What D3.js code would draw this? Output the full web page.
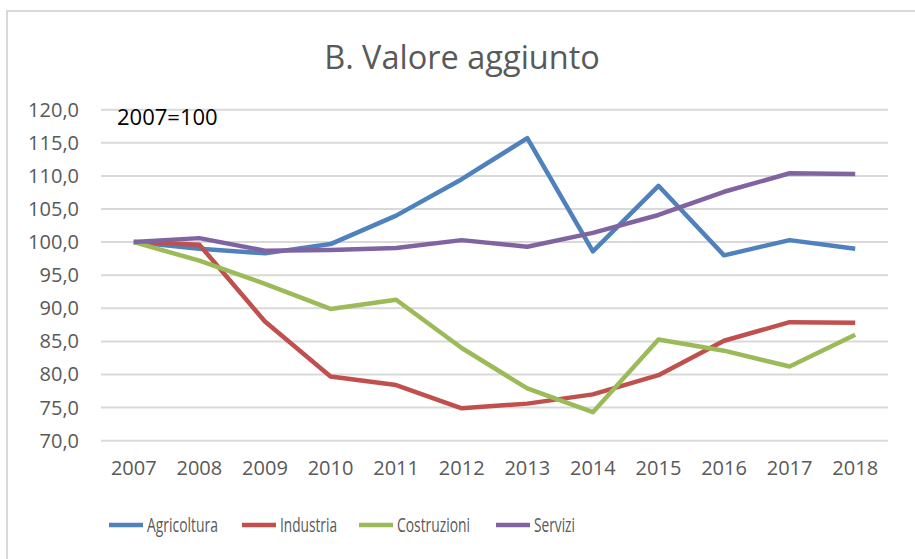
<!DOCTYPE html>
<html><head><meta charset="utf-8">
<script src="https://cdn.jsdelivr.net/npm/d3@7"></script>
<style>body{margin:0;background:#fff}svg{display:block}</style>
</head><body>
<script>
const years = ["2007","2008","2009","2010","2011","2012","2013","2014","2015","2016","2017","2018"];
const agricoltura = [100,99.0,98.3,99.7,104.0,109.5,115.7,98.6,108.5,98.0,100.3,99.0];
const industria   = [100,99.6,88.0,79.7,78.4,74.9,75.6,77.0,79.9,85.1,87.9,87.8];
const costruzioni = [100,97.2,93.7,89.9,91.3,84.0,77.9,74.3,85.3,83.6,81.2,86.0];
const servizi     = [100,100.6,98.7,98.8,99.1,100.3,99.3,101.4,104.1,107.6,110.4,110.3];
const seriesNames = ["Agricoltura","Industria","Costruzioni","Servizi"];
const seriesColors = ["#4F81BD","#C0504D","#9BBB59","#8064A2"];
const yTicks = [70,75,80,85,90,95,100,105,110,115,120];
const title = "B. Valore aggiunto";
const note = "2007=100";

const W=915,H=559;
const svg=d3.select("body").append("svg").attr("width",W).attr("height",H);
const font="'Open Sans', sans-serif";

// border
svg.append("path").attr("d",`M7,${H} L7,11 L${W},11`).attr("fill","none").attr("stroke","#d9d9d9").attr("stroke-width",2);

const x=d3.scaleBand().domain(years).range([101,888]);
const y=d3.scaleLinear().domain([70,120]).range([440.7,109.7]);

// gridlines
svg.append("g").selectAll("line").data(yTicks).join("line")
 .attr("x1",101).attr("x2",888).attr("y1",d=>y(d)).attr("y2",d=>y(d))
 .attr("stroke","#d9d9d9").attr("stroke-width",2);

// y axis
const yAxis=d3.axisLeft(y).tickValues(yTicks).tickSize(0).tickPadding(0)
 .tickFormat(d=>d3.format(".1f")(d).replace(".",","));
const ga=svg.append("g").attr("transform","translate(79,0)").call(yAxis);
ga.select(".domain").remove();
ga.selectAll("text").attr("font-family",font).attr("font-size",20).attr("fill","#595959");

// x axis
const xAxis=d3.axisBottom(x).tickSize(0).tickPadding(0);
const gx=svg.append("g").attr("transform","translate(0,461)").call(xAxis);
gx.select(".domain").remove();
gx.selectAll("text").attr("font-family",font).attr("font-size",20).attr("fill","#595959").attr("dy","0.71em");

// lines
const data=[agricoltura,industria,costruzioni,servizi];
const line=d3.line().x((d,i)=>x(years[i])+x.bandwidth()/2).y(d=>y(d));
svg.append("g").selectAll("path").data(data).join("path")
 .attr("d",line).attr("fill","none")
 .attr("stroke",(d,i)=>seriesColors[i]).attr("stroke-width",4.5)
 .attr("stroke-linejoin","round").attr("stroke-linecap","butt");

// title
svg.append("text").attr("x",462).attr("y",69).attr("text-anchor","middle")
 .attr("font-family",font).attr("font-size",32.5).attr("fill","#595959").text(title);

// note
svg.append("text").attr("x",117).attr("y",125).attr("font-family",font).attr("font-size",22).attr("fill","#000").text(note);

// legend
const legX=[109,242,359,496];
const legW=[71,57,73,41];
const lg=svg.append("g").selectAll("g").data(seriesNames).join("g")
 .attr("transform",(d,i)=>`translate(${legX[i]},525)`);
lg.append("line").attr("x1",0).attr("x2",34).attr("y1",0).attr("y2",0)
 .attr("stroke",(d,i)=>seriesColors[i]).attr("stroke-width",4.5);
lg.append("text").attr("x",38).attr("y",0).attr("dy","0.36em")
 .attr("font-family",font).attr("font-size",20).attr("fill","#595959")
 .attr("textLength",(d,i)=>legW[i]).attr("lengthAdjust","spacingAndGlyphs").text(d=>d);
</script>
</body></html>
